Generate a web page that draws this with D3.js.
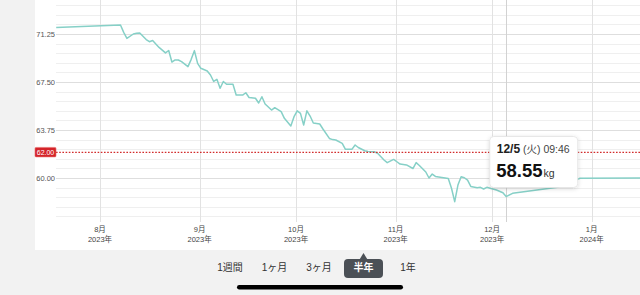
<!DOCTYPE html>
<html>
<head>
<meta charset="utf-8">
<script src="https://cdn.jsdelivr.net/npm/d3@7"></script>
<style>
  html, body { margin: 0; padding: 0; background: #f2f2f2; }
  svg { display: block; font-family: "Liberation Sans", "Noto Sans CJK JP", sans-serif; }
</style>
</head>
<body>
<svg id="chart"></svg>
<script>
// weigh-ins (date, kg)
const dates = [
  "2023-07-18", "2023-08-07", "2023-08-08", "2023-08-09", "2023-08-11", "2023-08-12", "2023-08-13",
  "2023-08-15", "2023-08-16", "2023-08-17", "2023-08-19", "2023-08-21", "2023-08-22", "2023-08-23",
  "2023-08-24", "2023-08-25", "2023-08-26", "2023-08-28", "2023-08-29", "2023-08-30", "2023-08-31",
  "2023-09-01", "2023-09-03", "2023-09-04", "2023-09-05", "2023-09-06", "2023-09-07", "2023-09-08",
  "2023-09-09", "2023-09-11", "2023-09-12", "2023-09-14", "2023-09-15", "2023-09-16", "2023-09-18",
  "2023-09-19", "2023-09-20", "2023-09-21", "2023-09-23", "2023-09-24", "2023-09-26", "2023-09-27",
  "2023-09-29", "2023-09-30", "2023-10-01", "2023-10-02", "2023-10-03", "2023-10-04", "2023-10-05",
  "2023-10-06", "2023-10-08", "2023-10-09", "2023-10-11", "2023-10-12", "2023-10-13", "2023-10-15",
  "2023-10-16", "2023-10-18", "2023-10-19", "2023-10-20", "2023-10-22", "2023-10-23", "2023-10-25",
  "2023-10-26", "2023-10-28", "2023-10-29", "2023-10-31", "2023-11-01", "2023-11-02", "2023-11-04",
  "2023-11-06", "2023-11-07", "2023-11-08", "2023-11-10", "2023-11-11", "2023-11-12", "2023-11-13",
  "2023-11-15", "2023-11-17", "2023-11-18", "2023-11-19", "2023-11-20", "2023-11-21", "2023-11-22",
  "2023-11-23", "2023-11-24", "2023-11-26", "2023-11-27", "2023-11-28", "2023-11-29", "2023-11-30",
  "2023-12-02", "2023-12-04", "2023-12-05", "2023-12-07", "2023-12-14", "2023-12-21", "2023-12-28",
  "2024-01-16"
];
const weights = [
  71.76, 71.95, 71.38, 70.91, 71.25, 71.30, 71.33,
  70.82, 70.65, 70.74, 70.20, 69.77, 69.96, 69.06,
  69.22, 69.22, 69.09, 68.70, 69.27, 69.95, 68.96,
  68.57, 68.36, 68.05, 67.54, 67.71, 67.01, 67.54,
  67.32, 67.32, 66.48, 66.48, 66.66, 66.29, 66.23,
  65.86, 66.35, 65.78, 65.31, 65.49, 65.18, 64.66,
  64.06, 64.79, 65.25, 65.05, 64.14, 65.25, 64.84,
  64.30, 64.22, 63.83, 63.09, 63.00, 62.97, 62.71,
  62.24, 62.24, 62.58, 62.38, 62.13, 62.07, 62.05,
  61.93, 61.41, 61.20, 61.45, 61.27, 61.09, 61.02,
  60.74, 61.20, 60.98, 60.47, 60.00, 60.31, 60.12,
  60.04, 59.96, 59.20, 58.15, 59.45, 60.10, 60.02,
  59.84, 59.34, 59.24, 59.27, 59.14, 59.27, 59.20,
  59.06, 58.85, 58.55, 58.80, 59.05, 59.27, 59.98,
  60.00
];

const yTicks = [60, 63.75, 67.5, 71.25];
const gridValues = d3.range(57, 73.6, 0.75);
const monthTicks = ["2023-08-01", "2023-09-01", "2023-10-01", "2023-11-01", "2023-12-01", "2024-01-01"];
const monthLabels = ["8月", "9月", "10月", "11月", "12月", "1月"];
const yearLabels = ["2023年", "2023年", "2023年", "2023年", "2023年", "2024年"];
const targetWeight = 62;
const selectedDate = "2023-12-05 09:46";
const selectedLabel = ["12/5", " (火) 09:46"];
const selectedWeight = 58.55;
const ranges = ["1週間", "1ヶ月", "3ヶ月", "半年", "1年"];
const activeRange = "半年";

const width = 640, height = 295;
const plotLeft = 56, plotBottom = 222;
const parseDay = d3.timeParse("%Y-%m-%d");
const parseTime = d3.timeParse("%Y-%m-%d %H:%M");

const data = dates.map((d, i) => ({ date: d3.timeHour.offset(parseDay(d), 9), value: weights[i] }));

const svg = d3.select("#chart").attr("width", width).attr("height", height);

const defs = svg.append("defs");
defs.append("clipPath").attr("id", "plot-clip")
  .append("rect").attr("x", plotLeft).attr("y", 0).attr("width", width - plotLeft).attr("height", plotBottom);
const shadow = defs.append("filter").attr("id", "shadow")
  .attr("x", "-20%").attr("y", "-20%").attr("width", "140%").attr("height", "150%");
shadow.append("feDropShadow").attr("dx", 0).attr("dy", 1).attr("stdDeviation", 2)
  .attr("flood-color", "#000").attr("flood-opacity", 0.15);

// scales
const x = d3.scaleTime()
  .domain([parseDay("2023-08-01"), parseDay("2024-01-01")])
  .range([100, 591.7]);
const y = d3.scaleLinear()
  .domain([60 - 44 / 12.8, 60 + 178 / 12.8])
  .range([plotBottom, 0]);

// white chart panel
svg.append("rect").attr("x", 35).attr("y", 0).attr("width", width - 35).attr("height", 250).attr("fill", "#fff");

// horizontal grid
svg.append("g").selectAll("line")
  .data(gridValues)
  .join("line")
  .attr("x1", plotLeft).attr("x2", width)
  .attr("y1", d => Math.round(y(d)) + 0.5).attr("y2", d => Math.round(y(d)) + 0.5)
  .attr("stroke", d => yTicks.some(t => Math.abs(t - d) < 0.01) ? "#dedede" : "#efefef")
  .attr("stroke-width", 1);

// month grid + labels
const months = monthTicks.map(parseDay);
svg.append("g").selectAll("line")
  .data(months)
  .join("line")
  .attr("x1", d => Math.round(x(d)) + 0.5).attr("x2", d => Math.round(x(d)) + 0.5)
  .attr("y1", 0).attr("y2", plotBottom)
  .attr("stroke", "#e2e2e2");

const monthG = svg.append("g").selectAll("g")
  .data(months)
  .join("g")
  .attr("transform", d => `translate(${x(d)},0)`);
monthG.append("text")
  .attr("y", 232).attr("text-anchor", "middle")
  .style("font-size", "7.5px").attr("fill", "#444")
  .text((d, i) => monthLabels[i]);
monthG.append("text")
  .attr("y", 241.5).attr("text-anchor", "middle")
  .style("font-size", "7.5px").attr("fill", "#444")
  .text((d, i) => yearLabels[i]);

// y labels
svg.append("g").selectAll("text")
  .data(yTicks)
  .join("text")
  .attr("x", 55).attr("y", d => y(d)).attr("dy", "0.35em")
  .attr("text-anchor", "end")
  .style("font-size", "7.5px").attr("fill", "#555")
  .text(d => d.toFixed(2));

// cursor line
const selX = x(parseTime(selectedDate));
svg.append("line")
  .attr("x1", Math.round(selX) + 0.5).attr("x2", Math.round(selX) + 0.5)
  .attr("y1", 0).attr("y2", plotBottom)
  .attr("stroke", "#d2d2d2");

// weight line
const line = d3.line()
  .x(d => x(d.date))
  .y(d => y(d.value));
svg.append("path")
  .datum(data)
  .attr("clip-path", "url(#plot-clip)")
  .attr("d", line)
  .attr("fill", "none")
  .attr("stroke", "#86d0c7")
  .attr("stroke-width", 1.5)
  .attr("stroke-linejoin", "round");

// target line
const ty = y(targetWeight);
svg.append("line")
  .attr("x1", plotLeft).attr("x2", width)
  .attr("y1", ty).attr("y2", ty)
  .attr("stroke", "#d22c2c").attr("stroke-width", 1.3)
  .attr("stroke-dasharray", "1.6,1.6");
svg.append("rect")
  .attr("x", 35).attr("y", ty - 5).attr("width", 21).attr("height", 9.5).attr("rx", 1)
  .attr("fill", "#d4242a").attr("stroke", "#e86a6a").attr("stroke-width", 0.6);
svg.append("text")
  .attr("x", 45.5).attr("y", ty).attr("dy", "0.35em")
  .attr("text-anchor", "middle")
  .style("font-size", "7px").attr("fill", "#fff")
  .text(targetWeight.toFixed(2));

// tooltip
const tip = svg.append("g").attr("transform", `translate(${selX - 16.5},136.5)`);
tip.append("rect")
  .attr("width", 88).attr("height", 51).attr("rx", 4)
  .attr("fill", "#fff").attr("stroke", "#e2e2e2").attr("stroke-width", 0.8)
  .attr("filter", "url(#shadow)");
const t1 = tip.append("text").attr("x", 7).attr("y", 16.5);
t1.append("tspan").style("font-size", "12px").style("font-weight", "bold").attr("fill", "#222").text(selectedLabel[0]);
t1.append("tspan").style("font-size", "10.5px").attr("fill", "#444").text(selectedLabel[1]);
const t2 = tip.append("text").attr("x", 6.5).attr("y", 40);
t2.append("tspan").style("font-size", "18.5px").style("font-weight", "bold").attr("fill", "#111").text(selectedWeight.toFixed(2));
t2.append("tspan").style("font-size", "10.5px").attr("fill", "#333").attr("dx", 1).text("kg");

// range selector
const rx = d3.scalePoint().domain(ranges).range([230, 408]);
const active = svg.append("g").attr("transform", `translate(${rx(activeRange)},0)`);
active.append("rect")
  .attr("x", -19.5).attr("y", 259).attr("width", 39).attr("height", 19).attr("rx", 4)
  .attr("fill", "#4b5056");
active.append("path")
  .attr("d", "M-4,259.5 L0,253 L4,259.5 Z")
  .attr("fill", "#4b5056");
svg.append("g").selectAll("text")
  .data(ranges)
  .join("text")
  .attr("x", d => rx(d)).attr("y", 267.5).attr("dy", "0.35em")
  .attr("text-anchor", "middle")
  .style("font-size", "10px")
  .style("font-weight", d => d === activeRange ? "bold" : "normal")
  .attr("fill", d => d === activeRange ? "#fff" : "#333")
  .text(d => d);

// home indicator
svg.append("rect")
  .attr("x", 237).attr("y", 285).attr("width", 166).attr("height", 4.5).attr("rx", 2.25)
  .attr("fill", "#000");
</script>
</body>
</html>
